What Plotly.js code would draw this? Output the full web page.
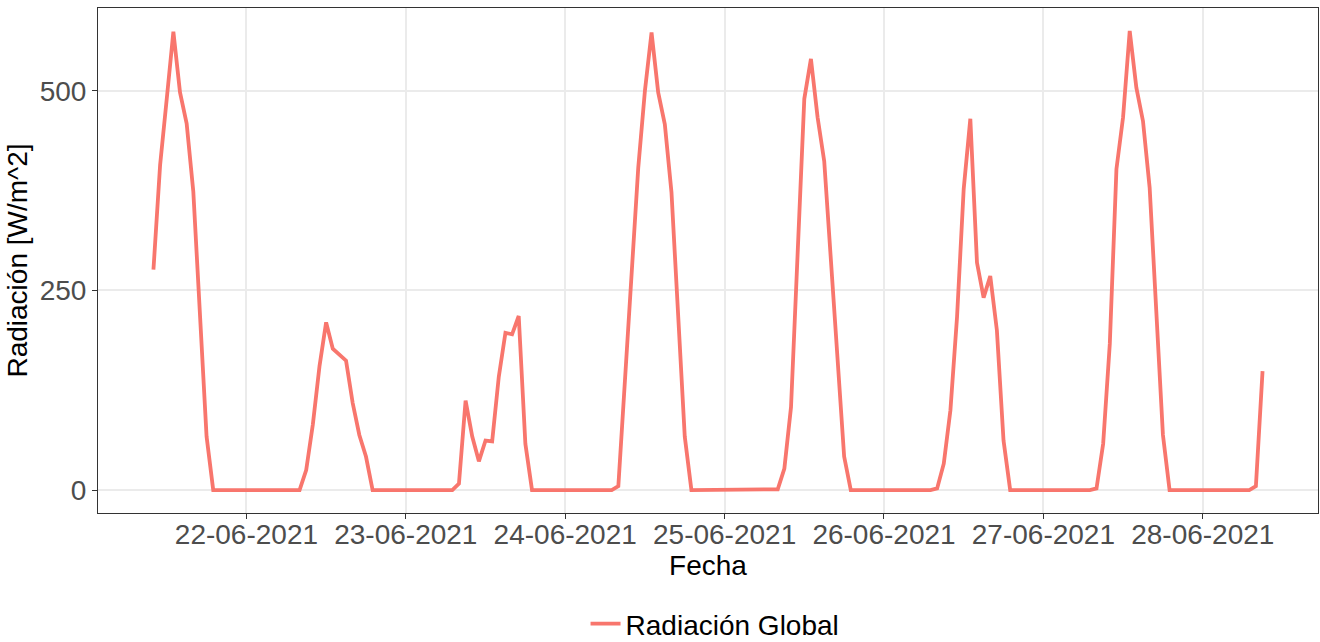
<!DOCTYPE html>
<html>
<head>
<meta charset="utf-8">
<script src="https://cdn.plot.ly/plotly-3.0.1.min.js"></script>
<style>html,body{margin:0;padding:0;background:#fff;}#chart{width:1320px;height:642px;}</style>
</head>
<body>
<div id="chart"></div>
<script>
// Hourly global radiation [W/m^2], one array per day, with the first hour of each array
const days = ['2021-06-21','2021-06-22','2021-06-23','2021-06-24','2021-06-25','2021-06-26','2021-06-27','2021-06-28'];
const startHours = [10, 0, 0, 0, 0, 0, 0, 0];
const rad21 = [276, 407, 490, 574, 498, 459, 374, 210, 67, 0, 0, 0, 0, 0];
const rad22 = [0,0,0,0,0,0,0,0, 0, 25, 82, 155, 210, 177, 170, 162, 109, 69, 42, 0, 0,0,0,0];
const rad23 = [0,0,0,0,0,0,0, 0, 8, 112, 67, 36, 62, 61, 142, 197, 195, 218, 58, 0, 0,0,0,0];
const rad24 = [0,0,0,0,0,0,0, 0, 5, 140, 275, 404, 500, 573, 498, 458, 373, 220, 67, 0, 0,0,0,0];
const rad25 = [0,0,0,0,0,0,0, 0, 1, 27, 104, 297, 490, 540, 467, 412, 289, 165, 42, 0, 0,0,0,0];
const rad26 = [0,0,0,0,0,0,0, 0, 2, 33, 100, 217, 377, 465, 285, 241, 268, 200, 62, 0, 0,0,0,0];
const rad27 = [0,0,0,0,0,0,0, 0, 2, 58, 183, 402, 467, 575, 504, 462, 379, 220, 69, 0, 0,0,0,0];
const rad28 = [0,0,0,0,0,0,0, 0, 5, 149];
const dailyValues = [rad21, rad22, rad23, rad24, rad25, rad26, rad27, rad28];
const tickDays = ['2021-06-22','2021-06-23','2021-06-24','2021-06-25','2021-06-26','2021-06-27','2021-06-28'];
const tickLabels = ['22-06-2021','23-06-2021','24-06-2021','25-06-2021','26-06-2021','27-06-2021','28-06-2021'];
const yTicks = [0, 250, 500];
const seriesName = 'Radiación Global';

const x = [], y = [];
days.forEach((d, k) => {
  dailyValues[k].forEach((v, i) => {
    const h = startHours[k] + i;
    x.push(d + ' ' + String(h).padStart(2, '0') + ':00');
    y.push(v);
  });
});

const font = 'Liberation Sans, Arial, Helvetica, sans-serif';
const fs = 28;
const trace = {
  type: 'scatter', mode: 'lines', x: x, y: y, name: seriesName,
  line: {color: '#F8766D', width: 3.8}
};
const layout = {
  width: 1320, height: 642,
  margin: {l: 98, r: 2, t: 8, b: 129, autoexpand: false},
  paper_bgcolor: '#ffffff', plot_bgcolor: '#ffffff',
  font: {family: font, size: fs, color: '#000000'},
  showlegend: true,
  legend: {orientation: 'h', xref: 'container', yref: 'container',
           x: 0.5417, xanchor: 'center', y: 0.028, yanchor: 'middle',
           font: {family: font, size: fs, color: '#000000'}, bgcolor: 'rgba(0,0,0,0)'},
  xaxis: {
    type: 'date',
    range: ['2021-06-21 01:39', '2021-06-28 17:21'],
    tickvals: tickDays, ticktext: tickLabels,
    ticks: 'outside', ticklen: 5, tickwidth: 1, tickcolor: '#333333',
    ticklabelstandoff: -9,
    tickfont: {family: font, size: fs, color: '#4D4D4D'},
    showgrid: true, gridcolor: '#EBEBEB', gridwidth: 2,
    showline: true, linecolor: '#333333', linewidth: 1, mirror: true,
    zeroline: false,
    title: {text: 'Fecha', font: {family: font, size: fs, color: '#000000'}, standoff: 2}
  },
  yaxis: {
    range: [-28.75, 603.75],
    tickvals: yTicks,
    ticks: 'outside', ticklen: 5, tickwidth: 1, tickcolor: '#333333',
    tickfont: {family: font, size: fs, color: '#4D4D4D'},
    showgrid: true, gridcolor: '#EBEBEB', gridwidth: 2,
    showline: true, linecolor: '#333333', linewidth: 1, mirror: true,
    zeroline: false,
    title: {text: 'Radiación [W/m^2]', font: {family: font, size: fs, color: '#000000'}, standoff: 3}
  }
};
Plotly.newPlot('chart', [trace], layout, {displayModeBar: false, staticPlot: true});
</script>
</body>
</html>
